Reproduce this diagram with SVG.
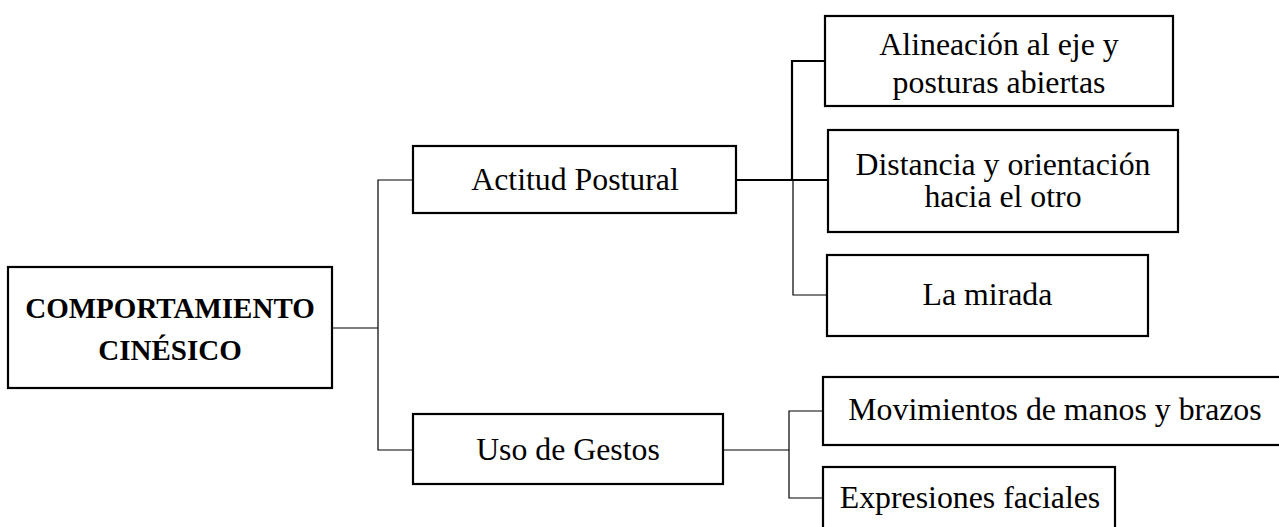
<svg xmlns="http://www.w3.org/2000/svg" width="1279" height="527" viewBox="0 0 1279 527">
<style>
.box{fill:#fff;stroke:#000;stroke-width:2.2}
.t{font-family:"Liberation Serif","Times New Roman",serif;font-size:31.8px;fill:#000;text-anchor:middle}
.b{font-family:"Liberation Serif","Times New Roman",serif;font-size:29px;font-weight:bold;fill:#000;text-anchor:middle}
.c{fill:none;stroke:#000;stroke-width:1.2}
.ck{fill:none;stroke:#000;stroke-width:2.2}
</style>
<rect width="1279" height="527" fill="#fff"/>
<g id="connectors">
<polyline class="c" points="332,328 378,328"/>
<polyline class="c" points="413,180 378,180 378,450 413,450"/>
<polyline class="ck" points="736,180 792,180"/>
<polyline class="ck" points="825,61 792,61 792,180 828,180"/>
<polyline class="c" points="793,180 793,295 827,295"/>
<polyline class="c" points="723,450 789,450"/>
<polyline class="c" points="823,411 789,411 789,498 823,498"/>
</g>
<g id="root">
<rect class="box" x="8" y="267" width="324" height="121"/>
<text class="b" x="170" y="318">COMPORTAMIENTO</text>
<text class="b" x="170" y="360">CINÉSICO</text>
</g>
<g id="actitud">
<rect class="box" x="413" y="146" width="323" height="67"/>
<text class="t" x="575" y="190">Actitud Postural</text>
</g>
<g id="alineacion">
<rect class="box" x="825" y="16" width="348" height="90"/>
<text class="t" x="999" y="55">Alineación al eje y</text>
<text class="t" x="999" y="93">posturas abiertas</text>
</g>
<g id="distancia">
<rect class="box" x="828" y="130" width="350" height="102"/>
<text class="t" x="1003" y="175">Distancia y orientación</text>
<text class="t" x="1003" y="207">hacia el otro</text>
</g>
<g id="mirada">
<rect class="box" x="827" y="255" width="321" height="81"/>
<text class="t" x="987.5" y="305">La mirada</text>
</g>
<g id="gestos">
<rect class="box" x="413" y="414" width="310" height="70"/>
<text class="t" x="568" y="460">Uso de Gestos</text>
</g>
<g id="movimientos">
<rect class="box" x="823" y="377" width="470" height="68"/>
<text class="t" x="1055" y="420">Movimientos de manos y brazos</text>
</g>
<g id="expresiones">
<rect class="box" x="823" y="467" width="292" height="80"/>
<text class="t" x="970" y="508">Expresiones faciales</text>
</g>
</svg>
